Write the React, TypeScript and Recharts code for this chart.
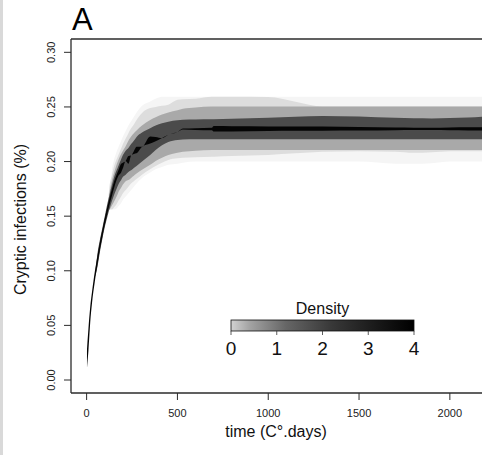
import { Area, ComposedChart, ReferenceLine, XAxis, YAxis } from "recharts";

// time (C°.days) at which the density bands were read
const TIME = [
  2, 10, 20, 30, 45, 60, 75, 90, 100, 115, 125, 140, 150, 165, 175, 190, 200, 215, 230, 245, 260, 275, 305, 350, 380,
  415, 450, 500, 530, 600, 690, 700, 800, 1000, 1150, 1300, 1500, 1700, 1800, 1900, 2000, 2100, 2200,
];

type Band = [number, number] | null;

// darkest core (density ~4)
const CORE_BAND: Band[] = [
  [0.011, 0.028], [0.027, 0.047], [0.053, 0.067], [0.071, 0.081], [0.09, 0.099], [0.106, 0.114], [0.121, 0.128],
  [0.134, 0.14], [0.142, 0.148], [0.153, 0.159], [0.16, 0.166], [0.169, 0.175], [0.175, 0.181], [0.183, 0.188],
  [0.187, 0.192], [0.19, 0.198], [0.194, 0.199], [0.2005, 0.2005], [0.198, 0.205], [0.2055, 0.2055],
  [0.207, 0.2095], [0.2075, 0.2135], [0.2135, 0.2135], [0.2165, 0.223], [0.2185, 0.2225], [0.2215, 0.2215],
  [0.2245, 0.2245], [0.227, 0.227], [0.2293, 0.2302], [0.229, 0.2306], [0.2287, 0.231], [0.2274, 0.2326],
  [0.2276, 0.2324], [0.2279, 0.2322], [0.2281, 0.232], [0.2283, 0.232], [0.2285, 0.2316], [0.2287, 0.2312],
  [0.2289, 0.231], [0.2289, 0.2309], [0.2287, 0.2312], [0.2285, 0.2314], [0.2284, 0.2315],
];

const DARK_BAND: Band[] = [
  null, null, null, null, [0.094, 0.094], [0.104, 0.116], [0.119, 0.13], [0.132, 0.142], [0.14, 0.15],
  [0.15, 0.162], [0.156, 0.169], [0.164, 0.179], [0.169, 0.185], [0.175, 0.192], [0.179, 0.196], [0.183, 0.202],
  [0.186, 0.206], [0.188, 0.21], [0.1905, 0.2125], [0.192, 0.216], [0.194, 0.219], [0.196, 0.2225], [0.2, 0.2265],
  [0.206, 0.2305], [0.2105, 0.233], [0.215, 0.235], [0.218, 0.2365], [0.2198, 0.2378], [0.2202, 0.2382],
  [0.2204, 0.2385], [0.2204, 0.2387], [0.2204, 0.2387], [0.2204, 0.2392], [0.2204, 0.2402], [0.2204, 0.241],
  [0.2204, 0.2418], [0.2204, 0.2412], [0.2204, 0.24], [0.2204, 0.2396], [0.2204, 0.2395], [0.2204, 0.2398],
  [0.2204, 0.2403], [0.2204, 0.2412],
];

const MID_BAND: Band[] = [
  null, null, null, null, null, null, null, null, null, [0.155, 0.155], [0.156, 0.17], [0.16, 0.183],
  [0.163, 0.189], [0.168, 0.197], [0.172, 0.2015], [0.176, 0.207], [0.179, 0.21], [0.182, 0.214], [0.183, 0.219],
  [0.185, 0.223], [0.187, 0.226], [0.189, 0.2285], [0.1925, 0.233], [0.197, 0.238], [0.2005, 0.2405],
  [0.2035, 0.243], [0.206, 0.245], [0.208, 0.247], [0.209, 0.2483], [0.21, 0.2495], [0.2106, 0.2503],
  [0.2106, 0.2503], [0.2106, 0.2503], [0.2106, 0.2503], [0.2106, 0.2503], [0.2106, 0.2503], [0.2106, 0.2503],
  [0.2106, 0.2503], [0.2106, 0.2503], [0.2106, 0.2503], [0.2106, 0.2503], [0.2106, 0.2503], [0.2106, 0.2503],
];

const LIGHT_BAND: Band[] = [
  null, null, null, null, null, null, null, null, null, [0.156, 0.156], [0.156, 0.176], [0.156, 0.188],
  [0.158, 0.195], [0.161, 0.202], [0.164, 0.206], [0.168, 0.212], [0.171, 0.216], [0.174, 0.221], [0.177, 0.226],
  [0.18, 0.2305], [0.182, 0.234], [0.184, 0.238], [0.188, 0.2445], [0.193, 0.249], [0.196, 0.25], [0.199, 0.251],
  [0.2015, 0.252], [0.203, 0.2565], [0.2035, 0.257], [0.204, 0.2575], [0.2045, 0.2594], [0.2045, 0.2594],
  [0.205, 0.2594], [0.206, 0.259], [0.2075, 0.2548], [0.209, 0.2505], [0.2095, 0.2505], [0.209, 0.2505],
  [0.208, 0.2505], [0.2085, 0.2505], [0.2095, 0.2505], [0.2095, 0.2505], [0.2095, 0.2505],
];

const FAINT_BAND: Band[] = [
  null, null, null, null, null, null, null, null, null, null, [0.162, 0.162], [0.158, 0.193], [0.156, 0.201],
  [0.157, 0.209], [0.159, 0.213], [0.162, 0.219], [0.165, 0.223], [0.168, 0.228], [0.171, 0.233], [0.174, 0.237],
  [0.177, 0.241], [0.18, 0.245], [0.185, 0.251], [0.19, 0.255], [0.193, 0.2575], [0.195, 0.2594], [0.197, 0.2594],
  [0.198, 0.2594], [0.199, 0.2594], [0.2, 0.2594], [0.2, 0.2594], [0.2, 0.2594], [0.2, 0.2594], [0.2, 0.2594],
  [0.2, 0.2594], [0.2, 0.2594], [0.2, 0.2594], [0.198, 0.2594], [0.198, 0.2594], [0.1985, 0.2594], [0.2, 0.2594],
  [0.2, 0.2594], [0.2, 0.2594],
];

const X_TICKS = [0, 500, 1000, 1500, 2000];
const Y_TICKS = [0, 0.05, 0.1, 0.15, 0.2, 0.25, 0.3];
const DENSITY_TICKS = [0, 1, 2, 3, 4];

const X_DOMAIN: [number, number] = [-86, 2177];
const Y_DOMAIN: [number, number] = [-0.0119, 0.3122];

const FONT = "'Liberation Sans', Arial, Helvetica, sans-serif";
const AXIS = "#2b2b2b";

const rows = TIME.map((t, i) => ({
  t,
  faint: FAINT_BAND[i],
  light: LIGHT_BAND[i],
  mid: MID_BAND[i],
  dark: DARK_BAND[i],
  core: CORE_BAND[i],
}));

function YTick({ y, payload }: any) {
  return (
    <text x={55} y={y} transform={`rotate(-90 55 ${y})`} textAnchor="middle" fontSize={11} fill="#222" fontFamily={FONT}>
      {payload.value.toFixed(2)}
    </text>
  );
}

function XTick({ x, payload }: any) {
  return (
    <text x={x} y={416.5} textAnchor="middle" fontSize={11} fill="#222" fontFamily={FONT}>
      {payload.value}
    </text>
  );
}

function DensityKey() {
  const left = 231;
  const right = 414;
  const top = 320;
  const h = 11;
  const max = DENSITY_TICKS[DENSITY_TICKS.length - 1];
  const pos = (d: number) => left + ((right - left) * d) / max;
  return (
    <g fontFamily={FONT}>
      <defs>
        <linearGradient id="dens" x1="0" x2="1" y1="0" y2="0">
          <stop offset="0" stopColor="#d2d2d2" />
          <stop offset="0.1" stopColor="#a4a4a4" />
          <stop offset="0.3" stopColor="#666" />
          <stop offset="0.55" stopColor="#383838" />
          <stop offset="0.8" stopColor="#181818" />
          <stop offset="1" stopColor="#000" />
        </linearGradient>
      </defs>
      <text x={(left + right) / 2} y={314} textAnchor="middle" fontSize={16} fill="#111">
        Density
      </text>
      <rect x={left} y={top} width={right - left} height={h} fill="url(#dens)" stroke="#111" strokeWidth={0.8} />
      {DENSITY_TICKS.map((d) => (
        <g key={d}>
          <line x1={pos(d)} x2={pos(d)} y1={top + h} y2={top + h + 4} stroke="#333" strokeWidth={0.8} />
          <text x={pos(d)} y={355} textAnchor="middle" fontSize={19} fill="#111">
            {d}
          </text>
        </g>
      ))}
    </g>
  );
}

export default function App() {
  return (
    <div style={{ position: "absolute", left: 0, top: 0, width: 482, height: 455, background: "#fff" }}>
      <div style={{ position: "absolute", left: 0, top: 0, width: 3, height: 455, background: "#d9d9d9" }} />
      <ComposedChart width={482} height={455} data={rows} margin={{ top: 39, right: 0, bottom: 0, left: 0 }}>
        <XAxis
          dataKey="t"
          type="number"
          domain={X_DOMAIN}
          ticks={X_TICKS}
          allowDataOverflow
          height={62}
          tick={<XTick />}
          tickSize={7}
          tickLine={{ stroke: AXIS }}
          axisLine={{ stroke: AXIS, strokeWidth: 1.3 }}
        />
        <YAxis
          type="number"
          domain={Y_DOMAIN}
          ticks={Y_TICKS}
          allowDataOverflow
          width={71}
          tick={<YTick />}
          tickSize={7}
          tickLine={{ stroke: AXIS }}
          axisLine={{ stroke: AXIS, strokeWidth: 1.3 }}
        />
        <Area dataKey="faint" type="monotone" stroke="none" fill="#f5f5f5" fillOpacity={1} isAnimationActive={false} dot={false} activeDot={false} />
        <Area dataKey="light" type="monotone" stroke="none" fill="#dddddd" fillOpacity={1} isAnimationActive={false} dot={false} activeDot={false} />
        <Area dataKey="mid" type="monotone" stroke="none" fill="#a9a9a9" fillOpacity={1} isAnimationActive={false} dot={false} activeDot={false} />
        <Area dataKey="dark" type="monotone" stroke="none" fill="#4b4b4b" fillOpacity={1} isAnimationActive={false} dot={false} activeDot={false} />
        <Area dataKey="core" type="monotone" stroke="none" fill="#050505" fillOpacity={1} isAnimationActive={false} dot={false} activeDot={false} />
        <ReferenceLine y={Y_DOMAIN[1]} stroke={AXIS} strokeWidth={1.3} />
      </ComposedChart>
      <svg width={482} height={455} style={{ position: "absolute", left: 0, top: 0, pointerEvents: "none" }}>
        <text x={72} y={30} fontSize={31} fontFamily={FONT} fill="#000">
          A
        </text>
        <text x={25.5} y={219.5} transform="rotate(-90 25.5 219.5)" textAnchor="middle" fontSize={16} fontFamily={FONT} fill="#111">
          Cryptic infections (%)
        </text>
        <text x={276} y={437} textAnchor="middle" fontSize={16} fontFamily={FONT} fill="#111">
          time (C°.days)
        </text>
        <DensityKey />
      </svg>
    </div>
  );
}
